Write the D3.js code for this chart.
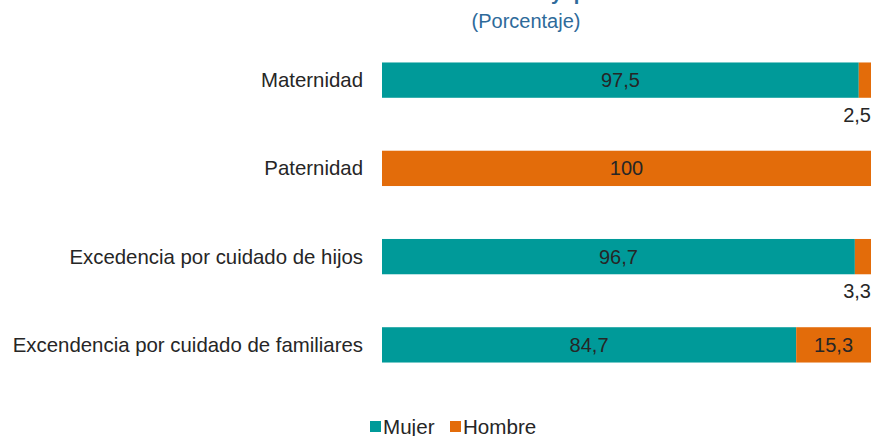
<!DOCTYPE html>
<html>
<head>
<meta charset="utf-8">
<script src="https://cdn.jsdelivr.net/npm/d3@7"></script>
<style>
  body { margin: 0; background: #fff; }
  svg { display: block; font-family: "Liberation Sans", Arial, sans-serif; }
</style>
</head>
<body>
<svg id="chart" width="874" height="436"></svg>
<script>
const categories = ['Maternidad', 'Paternidad', 'Excedencia por cuidado de hijos', 'Excendencia por cuidado de familiares'];
const mujer = [97.5, 0, 96.7, 84.7];
const hombre = [2.5, 100, 3.3, 15.3];
const seriesNames = ['Mujer', 'Hombre'];
const colors = ['#009a99', '#e36c0a'];

const svg = d3.select('#chart');
const fmt = v => String(v).replace('.', ',');

// title is cut off at the top edge in the original, only descenders show
svg.append('text').attr('x', 549).attr('y', 0).attr('text-anchor', 'end')
  .attr('font-size', 20).attr('font-weight', 'bold').attr('fill', '#2e6a9a')
  .text('Permisos de maternidad');
svg.append('text').attr('x', 551).attr('y', 0)
  .attr('font-size', 20).attr('font-weight', 'bold').attr('fill', '#2e6a9a')
  .attr('word-spacing', 6)
  .text('y paternidad');
svg.append('text').attr('x', 526).attr('y', 28).attr('text-anchor', 'middle')
  .attr('font-size', 20).attr('fill', '#2e6a9a').text('(Porcentaje)');

const x = d3.scaleLinear().domain([0, 100]).range([382, 871]);
const y = d3.scaleBand().domain(categories).range([36, 389]).paddingInner(0.6).paddingOuter(0.3);

const rows = categories.map((c, i) => ({ cat: c, vals: [mujer[i], hombre[i]] }));
const stacked = d3.stack().keys([0, 1]).value((d, k) => d.vals[k])(rows);

stacked.forEach((layer, k) => {
  const g = svg.append('g');
  g.selectAll('rect').data(layer.filter(d => d[1] > d[0])).enter().append('rect')
    .attr('x', d => x(d[0]))
    .attr('width', d => x(d[1]) - x(d[0]))
    .attr('y', d => y(d.data.cat))
    .attr('height', y.bandwidth())
    .attr('fill', colors[k]);

  g.selectAll('text').data(layer.filter(d => d[1] > d[0])).enter().append('text')
    .attr('font-size', 20).attr('fill', '#262626')
    .each(function(d) {
      const v = d[1] - d[0];
      const t = d3.select(this).text(fmt(+v.toFixed(1)));
      if (v < 5) {
        t.attr('x', x(d[1])).attr('y', y(d.data.cat) + y.bandwidth() + 24).attr('text-anchor', 'end');
      } else {
        t.attr('x', (x(d[0]) + x(d[1])) / 2).attr('y', y(d.data.cat) + y.bandwidth() / 2 + 7).attr('text-anchor', 'middle');
      }
    });
});

svg.append('g').selectAll('text').data(categories).enter().append('text')
  .attr('x', 363).attr('y', d => y(d) + y.bandwidth() / 2 + 7)
  .attr('text-anchor', 'end').attr('font-size', 20.4).attr('fill', '#262626')
  .text(d => d);

const legendX = [370, 450];
const legend = svg.append('g').selectAll('g').data(seriesNames).enter().append('g')
  .attr('transform', (d, i) => `translate(${legendX[i]},420)`);
legend.append('rect').attr('width', 11).attr('height', 11).attr('y', 1).attr('fill', (d, i) => colors[i]);
legend.append('text').attr('x', 13).attr('y', 14).attr('font-size', 20.6).attr('fill', '#262626').text(d => d);
</script>
</body>
</html>
